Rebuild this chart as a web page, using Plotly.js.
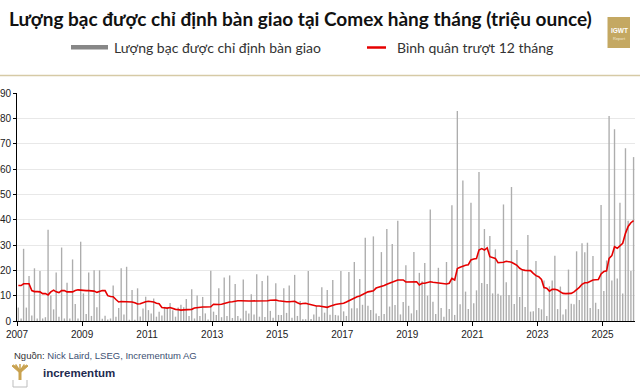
<!DOCTYPE html>
<html>
<head>
<meta charset="utf-8">
<script src="https://cdn.plot.ly/plotly-3.0.1.min.js"></script>
<style>
html,body{margin:0;padding:0;background:#fff;}
#chart{width:640px;height:388px;}
</style>
</head>
<body>
<div id="chart"></div>
<script>
// Monthly silver delivered/designated at Comex (million ounces), Jan 2007 – Dec 2025
const years = [2007,2008,2009,2010,2011,2012,2013,2014,2015,2016,2017,2018,2019,2020,2021,2022,2023,2024,2025];
const deliveries2007_2012 = [
  5.3, 1, 28.5, 5.3, 17.8, 2.2, 20.8, 1, 19.7, 1, 1.5, 36,
  10.1, 4.6, 19.1, 1.7, 29, 1, 15.1, 1, 24.3, 6.7, 1, 31.3,
  10.9, 2.8, 19.1, 2, 20, 5.4, 20, 0.9, 2.1, 0.6, 1, 14,
  1.7, 5.1, 20.8, 2.6, 21.4, 0.5, 12.2, 0.5, 12.9, 1.8, 4.9, 9.6,
  4.3, 3, 8.9, 1.7, 3.7, 2.2, 5.6, 5.3, 7.1, 4.2, 1.7, 5.3,
  6.4, 5.4, 8.7, 2, 12.5, 1, 10.1, 2, 9.5, 3, 0.6, 19.8
];
const deliveries2013_2018 = [
  3.7, 2.4, 12.9, 1.5, 17.2, 2, 18, 1.2, 14.6, 2, 1, 16.4,
  4, 3, 10.6, 2.6, 18.5, 1.7, 15.8, 1.6, 17.9, 4, 1.3, 14.9,
  2.4, 2.4, 12.9, 3.2, 14, 1.3, 18.2, 2, 7.9, 0.7, 0.7, 19.7,
  0.8, 2.6, 5.9, 1.7, 13.3, 3.3, 12.2, 2.5, 16.2, 2.4, 2.2, 19.7,
  3.8, 2, 19.3, 5, 23.3, 5, 16.6, 6.4, 32.9, 6, 4.3, 33.4,
  3, 2, 27.2, 2.8, 36.3, 5.7, 30.4, 6.3, 39.6, 2.6, 7.5, 22
];
const deliveries2019_2025 = [
  6, 3, 27.2, 4.3, 19, 15.7, 22.9, 10, 44, 7.6, 2.8, 21,
  5.1, 1.7, 23.3, 4.7, 45.7, 2.4, 82.9, 6.6, 55.5, 11.6, 4.7, 46.7,
  7, 12.1, 58.8, 15, 36.3, 14.6, 33.6, 10.9, 28.3, 10.8, 10.1, 46,
  15.3, 10.3, 52.9, 6.7, 28, 9.5, 20.1, 5.5, 33.9, 3.7, 3.8, 23.7,
  5.1, 4.6, 16, 2, 13.7, 16, 25.8, 4.7, 13.6, 2.6, 4.6, 20.3,
  6.8, 6.6, 27.5, 8.3, 30.7, 27.1, 30.9, 5.1, 25.7, 7.2, 4.7, 45.8,
  11.8, 23.9, 80.9, 16, 75.7, 16.8, 46.7, 10.9, 68.2, 39.6, 19.7, 64.7
];
// 12-month moving average
const movingAvg2007_2012 = [
  14, 14, 14.7, 14.7, 14.7, 12, 11.6, 11.6, 11.5, 10.8, 10.8, 10.3,
  11.5, 12.2, 11.5, 11.2, 12, 12, 11.5, 11.5, 11.5, 12, 12.3, 12.2,
  12, 12, 12, 12, 11.8, 11.3, 11.6, 12, 12, 10, 9.7, 9.6,
  8.5, 7.5, 7.7, 7.7, 7.7, 7.7, 7.5, 7.2, 6.7, 6.8, 7.3, 7.6,
  7.8, 7.7, 7.5, 7, 6.8, 5.3, 5.1, 5.1, 5.3, 4.8, 4.6, 4.5,
  4.3, 4.4, 4.5, 4.5, 4.6, 5.1, 5.3, 5.5, 5.5, 5.5, 5.6, 5.6
];
const movingAvg2013_2018 = [
  6.6, 6.4, 6.5, 6.6, 7, 7.2, 7.5, 7.6, 7.9, 8, 8, 7.9,
  7.9, 7.9, 7.9, 7.9, 7.9, 7.9, 8, 8, 8, 8.2, 8.3, 8.3,
  8, 7.8, 7.6, 7.6, 7.6, 7.6, 7.8, 7.2, 6.7, 6.9, 7, 6.7,
  6.4, 6.1, 5.9, 5.9, 5.8, 5.6, 5.4, 5.8, 6.3, 6.5, 6.7, 6.8,
  7, 7.5, 8, 8.6, 9.2, 9.6, 9.9, 10.4, 11.2, 11.5, 11.7, 11.9,
  13, 13.3, 13.6, 14, 14.5, 15, 15.5, 16, 16.2, 16.2, 16.2, 15.4
];
const movingAvg2019_2025 = [
  15.4, 15.4, 15.5, 15.5, 14.2, 14.9, 14.9, 15.2, 15.5, 15.3, 15.1, 15,
  15, 14.8, 14.6, 14.9, 16.8, 16.2, 20.7, 21.2, 21.7, 22, 22.2, 24.1,
  24.5, 24.7, 28, 28.6, 28, 28.9, 25.4, 25, 24.7, 23, 23, 23.2,
  23.6, 23.4, 23.2, 22.6, 22, 20.8, 20.2, 20, 20.1, 19.9, 18.8, 17.9,
  17.5, 16.4, 13.2, 12.9, 11.8, 12.5, 12.5, 12.2, 11.5, 10.9, 10.8, 10.8,
  10.9, 11.5, 12.2, 13.3, 14.5, 15.1, 15.1, 15.6, 16.2, 16.3, 16.4, 18.6,
  19.5, 19.8, 24.7, 25.8, 29.3, 28.7, 29.9, 30.7, 34.6, 37.3, 38.8, 39.6
];
const yTicks = [0,10,20,30,40,50,60,70,80,90];
const seriesNames = ['Lượng bạc được chỉ định bàn giao','Bình quân trượt 12 tháng'];
const titleText = 'Lượng bạc được chỉ định bàn giao tại Comex hàng tháng (triệu ounce)';
const sourceLabel = 'Nguồn:';
const sourceText = 'Nick Laird, LSEG, Incrementum AG';
const brandText = 'incrementum';

const deliveries = deliveries2007_2012.concat(deliveries2013_2018, deliveries2019_2025);
const movingAvg = movingAvg2007_2012.concat(movingAvg2013_2018, movingAvg2019_2025);
const months = [];
years.forEach(y => { for (let m = 1; m <= 12; m++) months.push(y + '-' + String(m).padStart(2,'0') + '-16'); });

// pixel helpers for decorations (plot area: x 17..635, y 93..321)
const L = 17, R = 635, T = 93, B = 321;
const px = x => (x - L) / (R - L);
const py = y => (B - y) / (B - T);

const barColor = '#adadad';
const lineColor = '#e60000';
const gold = '#c9a24f';

const traces = [
  {type:'bar', x: months, y: deliveries, name: seriesNames[0], marker:{color:barColor, line:{width:0}}},
  {type:'scatter', mode:'lines', x: months, y: movingAvg, name: seriesNames[1], line:{color:lineColor, width:1.6}}
];

const shapes = [
  // legend swatches
  {type:'rect', xref:'paper', yref:'paper', x0:px(71), x1:px(108), y0:py(49.5), y1:py(45), fillcolor:'#878787', line:{width:0}},
  {type:'line', xref:'paper', yref:'paper', x0:px(367), x1:px(386), y0:py(47.5), y1:py(47.5), line:{color:lineColor, width:2.5}},
  // separator line
  {type:'line', xref:'paper', yref:'paper', x0:px(0), x1:px(640), y0:py(75.5), y1:py(75.5), line:{color:'#d6caa6', width:1.5}},
  // IGWT badge
  {type:'rect', xref:'paper', yref:'paper', x0:px(607.5), x1:px(630), y0:py(17), y1:py(48), fillcolor:'#c4a862', line:{width:0}},
  // incrementum tree icon
  {type:'rect', xref:'paper', yref:'paper', x0:px(18.5), x1:px(21.5), y0:py(371), y1:py(380), fillcolor:gold, line:{width:0}},
  {type:'path', xref:'paper', yref:'paper', path:'M '+px(20)+' '+py(373)+' L '+px(12)+' '+py(366)+' L '+px(13.5)+' '+py(365)+' L '+px(20)+' '+py(370)+' L '+px(26.5)+' '+py(365)+' L '+px(28)+' '+py(366)+' Z', fillcolor:gold, line:{color:gold, width:1}},
  {type:'line', xref:'paper', yref:'paper', x0:px(20), x1:px(15.5), y0:py(371), y1:py(364.5), line:{color:gold, width:1.5}},
  {type:'line', xref:'paper', yref:'paper', x0:px(20), x1:px(20), y0:py(371), y1:py(364), line:{color:gold, width:1.5}},
  {type:'line', xref:'paper', yref:'paper', x0:px(20), x1:px(24.5), y0:py(371), y1:py(364.5), line:{color:gold, width:1.5}},
  {type:'path', xref:'paper', yref:'paper', path:'M '+px(13)+' '+py(380)+' L '+px(13)+' '+py(387)+' L '+px(27)+' '+py(387)+' L '+px(27)+' '+py(380), fillcolor:'rgba(0,0,0,0)', line:{color:'#bdbdbd', width:1}}
];

const annotations = [
  {xref:'paper', yref:'paper', x:px(7), y:py(18), xanchor:'left', yanchor:'middle', showarrow:false,
   text:'<b>'+titleText+'</b>', font:{family:'Lato, sans-serif', size:19, color:'#111'}},
  {xref:'paper', yref:'paper', x:px(112), y:py(47), xanchor:'left', yanchor:'middle', showarrow:false,
   text:seriesNames[0], font:{family:'Lato, sans-serif', size:14, color:'#333'}},
  {xref:'paper', yref:'paper', x:px(395), y:py(47), xanchor:'left', yanchor:'middle', showarrow:false,
   text:seriesNames[1], font:{family:'Lato, sans-serif', size:14, color:'#333'}},
  {xref:'paper', yref:'paper', x:px(619), y:py(30.5), xanchor:'center', yanchor:'middle', showarrow:false,
   text:'<b>IGWT</b>', font:{family:'Liberation Sans, Arial, sans-serif', size:6.5, color:'#ffffff'}},
  {xref:'paper', yref:'paper', x:px(619), y:py(38.5), xanchor:'center', yanchor:'middle', showarrow:false,
   text:'Report', font:{family:'Liberation Sans, Arial, sans-serif', size:4, color:'#f3ead4'}},
  {xref:'paper', yref:'paper', x:px(12), y:py(355), xanchor:'left', yanchor:'middle', showarrow:false,
   text:'<span style="color:#333">'+sourceLabel+'</span> '+sourceText, font:{family:'Liberation Sans, Arial, sans-serif', size:9.5, color:'#3d4f72'}},
  {xref:'paper', yref:'paper', x:px(41), y:py(373), xanchor:'left', yanchor:'middle', showarrow:false,
   text:'<b>'+brandText+'</b>', font:{family:'Liberation Sans, Arial, sans-serif', size:11.5, color:'#1e2a4f'}}
];

const layout = {
  width:640, height:388,
  margin:{l:L, r:640-R, t:T, b:388-B, pad:0},
  paper_bgcolor:'#ffffff', plot_bgcolor:'#ffffff',
  showlegend:false,
  bargap:0.45,
  font:{family:'Liberation Sans, Arial, sans-serif', size:10, color:'#222'},
  xaxis:{type:'date', range:['2007-01-01','2026-01-01'], tick0:'2007-01-01', dtick:'M24', tickformat:'%Y',
         showgrid:false, zeroline:false, showline:true, linecolor:'#000', linewidth:1,
         ticks:'outside', ticklen:4, tickcolor:'#000', tickfont:{size:10, color:'#222'}},
  yaxis:{range:[0,90], tickvals:yTicks, ticktext:yTicks.map(String), showgrid:true, gridcolor:'#e8e8e8', gridwidth:1,
         zeroline:false, showline:true, linecolor:'#000', linewidth:1,
         ticks:'outside', ticklen:3, tickcolor:'#000', tickfont:{size:10, color:'#222'}},
  shapes: shapes,
  annotations: annotations
};

Plotly.newPlot('chart', traces, layout, {displayModeBar:false, staticPlot:true});
</script>
</body>
</html>
